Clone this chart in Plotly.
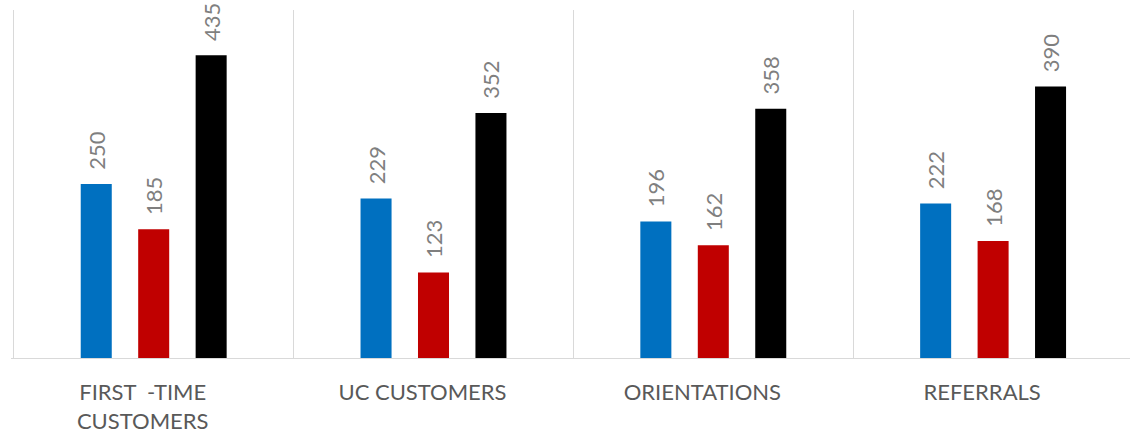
import plotly.graph_objects as go

categories = ["FIRST \u00a0-TIME<br>CUSTOMERS", "UC CUSTOMERS", "ORIENTATIONS", "REFERRALS"]
series_a = [250, 229, 196, 222]
series_b = [185, 123, 162, 168]
series_c = [435, 352, 358, 390]
colors = ["#0070C0", "#C00000", "#000000"]

fig = go.Figure()
for vals, col in zip([series_a, series_b, series_c], colors):
    fig.add_trace(go.Bar(
        x=categories, y=vals, marker=dict(color=col, line=dict(width=0)),
        texttemplate="\u00a0\u00a0%{y}", textposition="outside", textangle=-90,
        textfont=dict(family="Lato, Open Sans, sans-serif", size=22, color="#7F7F7F"),
        cliponaxis=False, constraintext="none", showlegend=False,
    ))

fig.update_layout(
    width=1133, height=438,
    margin=dict(l=11, r=0, t=10, b=80),
    paper_bgcolor="white", plot_bgcolor="white",
    barmode="group", bargap=0.384, bargroupgap=0.46,
    xaxis=dict(
        type="category", tickson="boundaries", showgrid=True, gridcolor="#D9D9D9", gridwidth=1,
        showline=True, linecolor="#D9D9D9", linewidth=1, ticks="",
        tickfont=dict(family="Lato, Open Sans, sans-serif", size=22, color="#595959"),
        ticklabelstandoff=15, ticklabelshift=-11,
        range=[-0.51, 3.5], automargin=False,
    ),
    yaxis=dict(range=[0, 500], showgrid=False, showticklabels=False, zeroline=False,
               showline=False, automargin=False),
)

fig.write_html("out.html", config={"displayModeBar": False},
               post_script="document.body.style.margin='0';document.body.style.overflow='hidden';")
